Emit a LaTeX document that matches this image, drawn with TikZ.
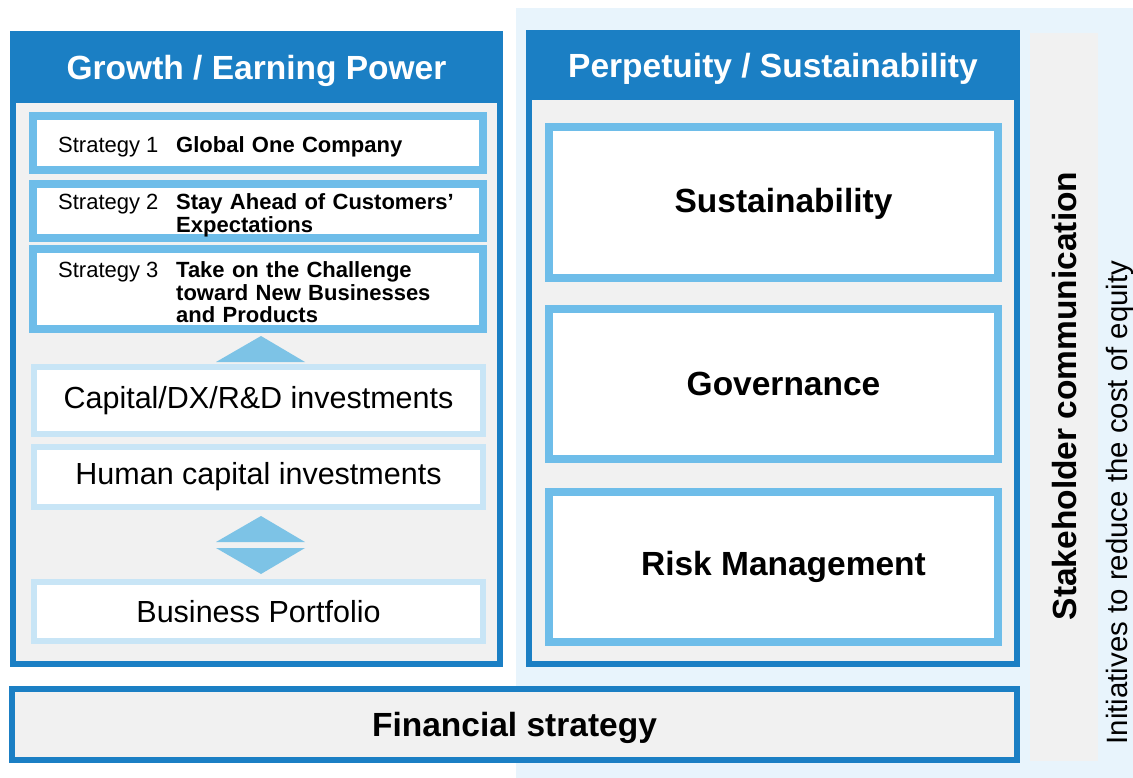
\documentclass[tikz,border=0pt]{standalone}
\usepackage{fontspec}
\setmainfont{Liberation Sans}

\definecolor{panelblue}{RGB}{27,127,196}
\definecolor{stratblue}{RGB}{110,189,233}
\definecolor{investblue}{RGB}{200,229,246}
\definecolor{arrowblue}{RGB}{125,195,230}
\definecolor{panelgray}{RGB}{241,241,241}
\definecolor{backblue}{RGB}{232,244,252}

\newcommand{\headfont}{\fontsize{33.5}{40}\selectfont\bfseries}
\newcommand{\stratfont}{\fontsize{22}{23}\selectfont}
\newcommand{\investfont}{\fontsize{30.5}{36}\selectfont}
\newcommand{\notefont}{\fontsize{29.4}{34}\selectfont}

\begin{document}
\begin{tikzpicture}[x=1pt, y=-1pt,
                panel/.style={draw=panelblue, line width=6, fill=panelgray, inner sep=0},
                header/.style={fill=panelblue, text=white, font=\headfont, inner sep=0, text depth=0},
                stratbox/.style={draw=stratblue, line width=8, fill=white, minimum width=450, inner sep=0},
                investbox/.style={draw=investblue, line width=6, fill=white, minimum width=449, inner sep=0, font=\investfont},
                pillarbox/.style={draw=stratblue, line width=8, fill=white, minimum width=449, minimum height=150, inner sep=0},
                pillartxt/.style={inner sep=0, font=\headfont},
                stratno/.style={anchor=base west, inner sep=0, font=\stratfont},
                strattxt/.style={anchor=base west, inner sep=0, text width=300, align=left, font=\stratfont\bfseries},
                tri/.style={fill=arrowblue}]
                \useasboundingbox (0,0) rectangle (1133,778);
                % Backdrop and the two panels:
                \fill[backblue] (516,8) rectangle (1133,778);
                \node[panel, minimum width=487, minimum height=630] (growth) at (256.5,349) {};
                \node[header, minimum width=493, minimum height=71] (growthhead) at (256.5,67.5) {Growth / Earning Power};
                \node[panel, minimum width=488, minimum height=630] (perpetuity) at (773,349) {};
                \node[header, minimum width=494, minimum height=70] (perphead) at (773,65) {Perpetuity / Sustainability};
                % Strategies:
                \node[stratbox, minimum height=54] (s1) at (258,143) {};
                \node[stratbox, minimum height=54] (s2) at (258,211) {};
                \node[stratbox, minimum height=80] (s3) at (258,289) {};
                \node[stratno] (s1no) at (58,153) {Strategy 1};
                \node[strattxt] (s1txt) at (176,153) {Global One Company};
                \node[stratno] (s2no) at (58,210) {Strategy 2};
                \node[strattxt] (s2txt) at (176,210) {Stay Ahead of Customers’\\Expectations};
                \node[stratno] (s3no) at (58,277) {Strategy 3};
                \node[strattxt] (s3txt) at (176,277) {Take on the Challenge\\toward New Businesses\\and Products};
                % Investments and portfolio:
                \node[investbox, minimum height=67] (capital) at (258.5,400.5) {Capital/DX/R\&D investments};
                \node[investbox, minimum height=60] (human) at (258.5,477) {Human capital investments};
                \node[investbox, minimum height=59] (portfolio) at (258.5,611.5) {Business Portfolio};
                \fill[tri] (216,362) -- (261,336) -- (305,362) -- cycle;
                \fill[tri] (216,542) -- (261,516) -- (305,542) -- cycle;
                \fill[tri] (216,548) -- (261,574) -- (305,548) -- cycle;
                % Pillars on the right:
                \node[pillarbox, minimum height=151] (sust) at (773.5,202.5) {};
                \node[pillarbox] (gov) at (773.5,384) {};
                \node[pillarbox] (risk) at (773.5,567) {};
                \node[pillartxt] (susttxt) at ([xshift=10,yshift=-1]sust.center) {Sustainability};
                \node[pillartxt] (govtxt) at ([xshift=10]gov.center) {Governance};
                \node[pillartxt] (risktxt) at ([xshift=10]risk.center) {Risk Management};
                % Financial strategy and stakeholder column:
                \node[panel, minimum width=1005, minimum height=71, font=\headfont, text depth=0] (finance) at (514.5,724.5) {Financial strategy};
                \node[fill=panelgray, minimum width=68, minimum height=728, inner sep=0] (stake) at (1064,397) {};
                \node[rotate=90, inner sep=0, font=\headfont] (staketxt) at (1065,396) {Stakeholder communication};
                \node[rotate=90, inner sep=0, font=\notefont] (equity) at (1120,502.5) {Initiatives to reduce the cost of equity};
            \end{tikzpicture}
\end{document}
